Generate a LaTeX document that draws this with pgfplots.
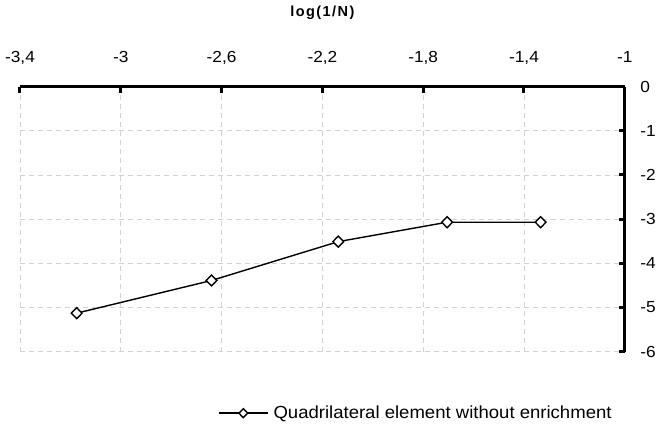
\documentclass[border=0pt]{standalone}
\usepackage{pgfplots}
\usepackage{fontspec}
\setmainfont{Liberation Sans}
\newfontfamily\tickfont[FakeStretch=1.08]{Liberation Sans}
\newfontfamily\legfont[FakeStretch=1.06]{Liberation Sans}
\newfontfamily\titlefont[LetterSpace=10]{Liberation Sans}
\pgfplotsset{compat=1.18}

\begin{document}
\begin{tikzpicture}
\begin{axis}[
    scale only axis,
    width=605pt, height=265pt,
    xmin=-3.4, xmax=-1,
    ymin=-6, ymax=0,
    axis x line=top,
    axis y line=right,
    axis line style={-, line width=3pt},
    xtick={-3.4,-3,-2.6,-2.2,-1.8,-1.4,-1},
    ytick={-6,-5,-4,-3,-2,-1,0},
    tick align=inside,
    major tick length=6pt,
    xtick style={line width=3pt, black},
    ytick style={line width=3pt, black},
    grid=major,
    grid style={dash pattern=on 5pt off 4pt, gray!35, line width=0.8pt},
    xlabel={\titlefont\bfseries log(1/N)},
    xlabel style={at={(axis description cs:0.5,1)}, anchor=base,
        yshift=70pt, font=\fontsize{14.5}{16}\selectfont},
    ticklabel style={font=\tickfont\fontsize{16}{18}\selectfont},
    xticklabel style={anchor=base, yshift=24.4pt},
    yticklabel style={anchor=west, xshift=12pt},
    /pgf/number format/assume math mode=true,
    /pgf/number format/use comma,
    /pgf/number format/fixed,
    /pgf/number format/precision=1,
    legend style={draw=none, fill=none, inner sep=0pt,
        nodes={inner sep=0pt}, column sep=5pt,
        at={(axis description cs:0.3273,-0.2325)}, anchor=west,
        font=\legfont\fontsize{17.5}{20}\selectfont},
    legend cell align=left,
    legend image code/.code={
        \draw[mark repeat=2, mark phase=2, #1]
            plot coordinates {(0pt,0pt) (24.5pt,0pt) (49pt,0pt)};},
    legend image post style={mark size=4.5pt},
]
\addplot[black, line width=1.4pt, mark=diamond*, mark size=5.5pt,
    mark options={fill=white, line width=1.4pt, xscale=1.3}]
  coordinates {(-3.175,-5.13) (-2.640,-4.39) (-2.137,-3.51) (-1.705,-3.07) (-1.334,-3.07)};
\addlegendentry{Quadrilateral element without enrichment}
\end{axis}
\path ([xshift=-20pt, yshift=-76.3pt]current axis.south west);
\path ([xshift=34pt, yshift=86.7pt]current axis.north east);
\end{tikzpicture}
\end{document}
